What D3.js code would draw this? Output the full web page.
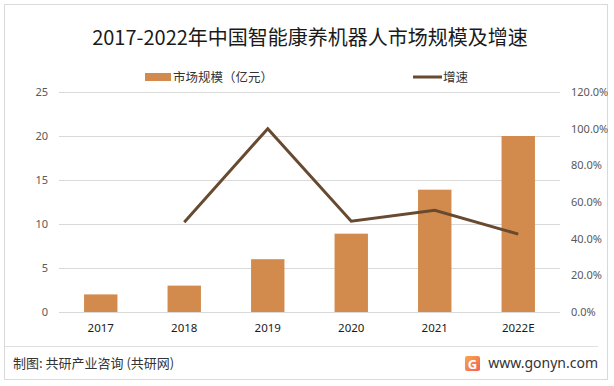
<!DOCTYPE html>
<html>
<head>
<meta charset="utf-8">
<script src="https://cdn.jsdelivr.net/npm/d3@7"></script>
<style>
  body { margin: 0; background: #fff; }
  svg { display: block; font-family: "Noto Sans CJK SC", "Noto Sans", sans-serif; }
</style>
</head>
<body>
<svg id="chart" width="614" height="386"></svg>
<script>
// chart data
const years = ["2017", "2018", "2019", "2020", "2021", "2022E"];
const marketSize = [2, 3, 6, 8.9, 13.9, 20];          // 亿元
const growth = [null, 0.49, 1.0, 0.495, 0.555, 0.425]; // 增速
const leftTicks = [0, 5, 10, 15, 20, 25];
const rightTicks = [0, 0.2, 0.4, 0.6, 0.8, 1.0, 1.2];

const width = 614, height = 386;
const plot = {left: 59, right: 560, top: 92, bottom: 312};
const barColor = "#d38b4d", lineColor = "#674a30";

const svg = d3.select("#chart");

// outer frame
svg.append("rect")
    .attr("x", 4.5).attr("y", 4.5)
    .attr("width", 603).attr("height", 375)
    .attr("fill", "none").attr("stroke", "#d9d9d9");

// title
svg.append("text")
    .attr("x", 310).attr("y", 45)
    .attr("text-anchor", "middle")
    .attr("font-size", 20)
    .attr("fill", "#1a1a1a")
    .text("2017-2022年中国智能康养机器人市场规模及增速");

// scales
const x = d3.scaleBand().domain(years).range([plot.left, plot.right]).padding(0);
const yLeft = d3.scaleLinear().domain([0, 25]).range([plot.bottom, plot.top]);
const yRight = d3.scaleLinear().domain([0, 1.2]).range([plot.bottom, plot.top]);
const barW = x.bandwidth() * 0.4;

// gridlines
svg.append("g").selectAll("line")
    .data(leftTicks)
    .enter().append("line")
    .attr("x1", plot.left).attr("x2", plot.right)
    .attr("y1", d => Math.round(yLeft(d)) + 0.5)
    .attr("y2", d => Math.round(yLeft(d)) + 0.5)
    .attr("stroke", "#d9d9d9").attr("stroke-width", 1);

// left axis
const leftAxis = svg.append("g")
    .attr("transform", `translate(${plot.left - 11},0)`)
    .call(d3.axisLeft(yLeft).tickValues(leftTicks).tickSize(0).tickPadding(0));
leftAxis.select(".domain").remove();
leftAxis.selectAll("text").attr("font-size", 11).attr("fill", "#595959")
    .attr("font-family", "\"Noto Sans\", sans-serif");

// right axis
const rightAxis = svg.append("g")
    .attr("transform", `translate(${plot.right + 11},0)`)
    .call(d3.axisRight(yRight).tickValues(rightTicks).tickSize(0).tickPadding(0)
        .tickFormat(d => (d * 100).toFixed(1) + "%"));
rightAxis.select(".domain").remove();
rightAxis.selectAll("text").attr("font-size", 11).attr("fill", "#595959")
    .attr("font-family", "\"Noto Sans\", sans-serif");

// x axis labels
const bottomAxis = svg.append("g")
    .attr("transform", `translate(0,${plot.bottom + 12})`)
    .call(d3.axisBottom(x).tickSize(0).tickPadding(0));
bottomAxis.select(".domain").remove();
bottomAxis.selectAll("text").attr("font-size", 11.5).attr("fill", "#1a1a1a")
    .attr("font-family", "\"Noto Sans\", sans-serif");

// bars
svg.append("g").selectAll("rect")
    .data(marketSize)
    .enter().append("rect")
    .attr("x", (d, i) => x(years[i]) + x.bandwidth() / 2 - barW / 2)
    .attr("width", barW)
    .attr("y", d => yLeft(d))
    .attr("height", d => yLeft(0) - yLeft(d))
    .attr("fill", barColor);

// growth line
const lineData = years.map((yr, i) => ({yr, v: growth[i]})).filter(d => d.v !== null);
const line = d3.line()
    .x(d => x(d.yr) + x.bandwidth() / 2)
    .y(d => yRight(d.v));
svg.append("path")
    .datum(lineData)
    .attr("d", line)
    .attr("fill", "none")
    .attr("stroke", lineColor)
    .attr("stroke-width", 3)
    .attr("stroke-linejoin", "miter");

// legend
const legend = svg.append("g");
legend.append("rect")
    .attr("x", 145).attr("y", 73).attr("width", 26).attr("height", 8)
    .attr("fill", barColor);
legend.append("text")
    .attr("x", 173).attr("y", 82)
    .attr("font-size", 12.5).attr("fill", "#333")
    .text("市场规模（亿元）");
legend.append("line")
    .attr("x1", 413).attr("x2", 442).attr("y1", 77).attr("y2", 77)
    .attr("stroke", lineColor).attr("stroke-width", 3);
legend.append("text")
    .attr("x", 443).attr("y", 82)
    .attr("font-size", 12.5).attr("fill", "#333")
    .text("增速");

// footer
svg.append("line")
    .attr("x1", 5).attr("x2", 598).attr("y1", 346.5).attr("y2", 346.5)
    .attr("stroke", "#e0e0e0");
svg.append("text")
    .attr("x", 13).attr("y", 368)
    .attr("font-size", 13).attr("fill", "#333")
    .text("制图: 共研产业咨询 (共研网)");

const grad = svg.append("defs").append("linearGradient")
    .attr("id", "logoGrad").attr("x1", "0").attr("y1", "0").attr("x2", "1").attr("y2", "1");
grad.append("stop").attr("offset", "0").attr("stop-color", "#f7a94a");
grad.append("stop").attr("offset", "1").attr("stop-color", "#f0605a");
const logo = svg.append("g").attr("transform", "translate(465,356)");
logo.append("rect").attr("width", 15).attr("height", 15).attr("rx", 2).attr("fill", "url(#logoGrad)");
logo.append("text").attr("x", 7.5).attr("y", 12.5).attr("text-anchor", "middle")
    .attr("font-size", 13).attr("font-weight", "bold").attr("fill", "#fff")
    .attr("font-family", "\"Noto Sans\", sans-serif").text("G");
svg.append("text")
    .attr("x", 598).attr("y", 368)
    .attr("text-anchor", "end")
    .attr("font-size", 14).attr("fill", "#333")
    .attr("font-family", "\"Noto Sans\", sans-serif")
    .text("www.gonyn.com");
</script>
</body>
</html>
